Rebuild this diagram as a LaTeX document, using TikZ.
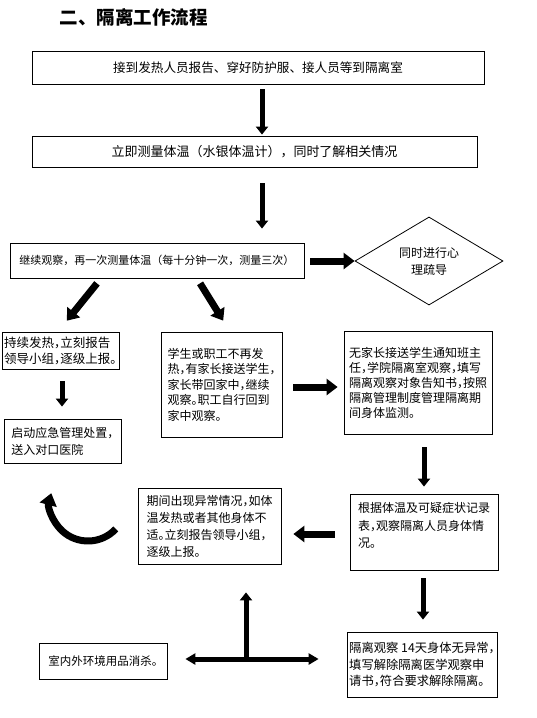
\documentclass[tikz,border=0pt]{standalone}
\usepackage{fontspec}
\setmainfont{Noto Sans CJK SC}[RawFeature=+halt]
\newfontfamily\cnfull{Noto Sans CJK SC}
\usepackage{tikz}
\usetikzlibrary{calc,positioning,arrows.meta,shapes.geometric}
\newcommand{\cnsize}[2]{\fontsize{#1}{#2}\selectfont}
\tikzset{
	box/.style={draw, line width=0.8pt, inner sep=2pt, align=left},
	flow/.style={line width=5pt, -{Triangle[width=12pt,length=8pt]}},
	fatflow/.style={line width=7pt, -{Triangle[width=16pt,length=11pt]}},
	twoway/.style={line width=5pt, {Triangle[width=11pt,length=10pt]}-{Triangle[width=11pt,length=10pt]}},
}

\begin{document}
\begin{tikzpicture}[x=1pt,y=-1pt]
		\useasboundingbox (0,0) rectangle (536,718);

		\node[anchor=west, font=\cnfull\cnsize{18.5}{20}\bfseries] (title) at (56,17) {二、隔离工作流程};

		% top of the flow
		\node[box, minimum width=452pt, minimum height=33pt, font=\cnfull\cnsize{12.6}{15}] (b1) at (258,67.5) {接到发热人员报告、穿好防护服、接人员等到隔离室};
		\node[box, minimum width=445pt, minimum height=31pt, font=\cnfull\cnsize{13}{15}] (b2) at (254.5,151.5) {立即测量体温（水银体温计），同时了解相关情况};
		\node[box, minimum width=294pt, minimum height=35pt, font=\cnfull\cnsize{11}{15}] (b3) at (157,260.5) {继续观察，再一次测量体温（每十分钟一次，测量三次）};
		\node[draw, line width=0.8pt, diamond, minimum width=148pt, minimum height=86pt, inner sep=0pt, align=center, font=\cnsize{12}{17}] (dia) at (429,261) {同时进行心\\理疏导};

		% middle row
		\node[box, minimum width=117pt, minimum height=37pt, font=\cnsize{12.5}{16}] (b4) at (60.5,350.5) {持续发热，立刻报告\\领导小组，逐级上报。};
		\node[box, minimum width=117pt, minimum height=44pt, font=\cnsize{12}{17}] (b5) at (62.5,441) {启动应急管理处置，\\送入对口医院};
		\node[box, minimum width=121pt, minimum height=105pt, font=\cnsize{12}{15.5}] (b6) at (221.5,384.5) {学生或职工不再发\\热，有家长接送学生，\\家长带回家中，继续\\观察。职工自行回到\\家中观察。};
		\node[box, minimum width=148pt, minimum height=103pt, font=\cnsize{12}{15}] (b7) at (418,382.5) {无家长接送学生通知班主\\任，学院隔离室观察，填写\\隔离观察对象告知书，按照\\隔离管理制度管理隔离期\\间身体监测。};

		% lower part
		\node[box, minimum width=148pt, minimum height=76pt, font=\cnsize{12}{17.5}] (b8) at (424,532) {根据体温及可疑症状记录\\表，观察隔离人员身体情\\况。\\[-4pt]\mbox{}};
		\node[box, minimum width=143pt, minimum height=76pt, font=\cnsize{12}{17}] (b9) at (209.5,526) {期间出现异常情况，如体\\温发热或者其他身体不\\适。立刻报告领导小组，\\逐级上报。};
		\node[box, minimum width=150pt, minimum height=65pt, font=\cnsize{12.3}{16.5}] (b10) at (422,664.5) {隔离观察 14天身体无异常，\\填写解除隔离医学观察申\\请书，符合要求解除隔离。};
		\node[box, minimum width=128pt, minimum height=36pt, font=\cnsize{11.5}{15}] (b11) at (103,661) {室内外环境用品消杀。};

		\coordinate (tj) at (246,659);
		\coordinate (turn) at (88,503);

		\draw[flow, shorten <=5pt, shorten >=1pt] (b1.south -| 262,0) -- (b2.north -| 262,0);
		\draw[flow, shorten <=16pt, shorten >=14pt] (b2.south -| 262,0) -- (b3.north -| 262,0);
		\draw[fatflow, shorten <=6pt] (b3.east |- dia.west) -- (dia.west);
		\draw[fatflow, shorten <=6.4pt, shorten >=14pt] (b3.south -| 101,0) -- (b4.north -| 58,0);
		\draw[fatflow, shorten <=5.8pt, shorten >=12.9pt] (b3.south -| 197,0) -- (b6.north -| 230,0);
		\draw[flow, shorten <=12pt, shorten >=12pt] (b4.south -| 62,0) -- (b5.north -| 62,0);
		\draw[fatflow, shorten <=11pt, shorten >=6pt] (b6.east |- 0,387) -- (b7.west |- 0,387);
		\draw[flow, shorten <=13pt, shorten >=7pt] (b7.south -| 424,0) -- (b8.north -| 424,0);
		\draw[fatflow, shorten <=15pt, shorten >=12pt] (b8.west |- 0,534) -- (b9.east |- 0,534);
		\draw[flow, shorten <=8pt, shorten >=12pt] (b8.south -| 423,0) -- (b10.north -| 423,0);
		\draw[twoway, shorten <=18pt, shorten >=28pt] (b11.east |- tj) -- (b10.west |- tj);
		\draw[flow, shorten >=28pt] (tj) -- (b9.south -| tj);
		\draw[fatflow, -{Triangle[width=17pt,length=12pt]}] (turn) ++(43:38) arc[start angle=43, end angle=195, radius=38];
	\end{tikzpicture}
\end{document}
